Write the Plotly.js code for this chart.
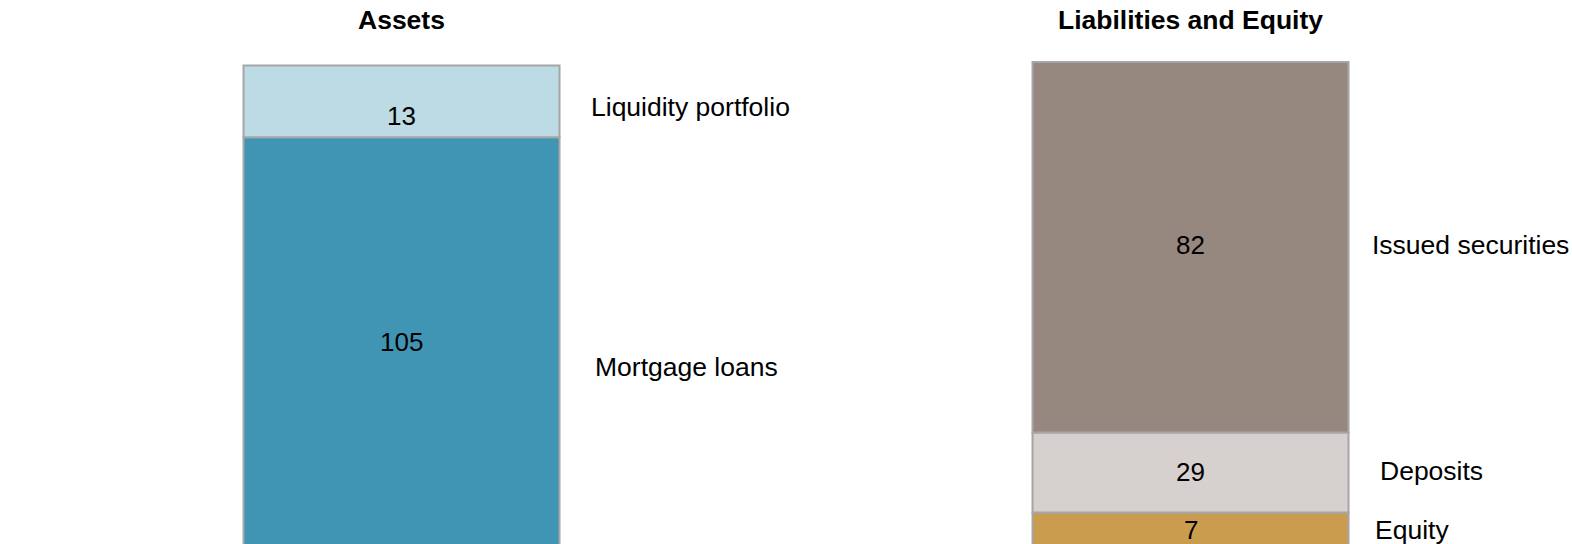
<!DOCTYPE html>
<html>
<head>
<meta charset="utf-8">
<script src="https://cdn.plot.ly/plotly-3.0.1.min.js"></script>
<style>html,body{margin:0;padding:0;background:#fff;overflow:hidden}#chart{width:1572px;height:544px}</style>
</head>
<body>
<div id="chart"></div>
<script>
// Columns (sides of the balance sheet)
const sides = ["Assets", "Liabilities and Equity"];

// Segment names, bottom to top
const assetNames = ["Mortgage loans", "Liquidity portfolio"];
const liabNames = ["Equity", "Deposits", "Issued securities"];

// Printed values (labels shown in the bars)
const assetLabels = ["105", "13"];
const liabLabels = ["7", "29", "82"];

// Drawn heights of the segments
const assetHeights = [102.2, 17.9];
const liabHeights = [8.4, 20.0, 92.6];

const assetColors = ["#4195b4", "#bddbe4"];
const liabColors = ["#c99c4e", "#d6d1ce", "#96887e"];

const FONT = "Liberation Sans, Arial, sans-serif";
const border = {color: "#a6a6a6", width: 2};

const traces = [];
const annotations = [];

function addStack(xIdx, names, heights, labels, colors, valShift, nameShift) {
  let base = 0;
  names.forEach((n, i) => {
    traces.push({
      type: "bar",
      x: [xIdx],
      y: [heights[i]],
      base: [base],
      width: 0.4005,
      name: n,
      marker: {color: colors[i], line: border},
      hoverinfo: "name+text",
      text: [labels[i]],
      textposition: "none",
      cliponaxis: true,
      showlegend: false
    });
    const mid = base + heights[i] / 2;
    annotations.push({
      x: xIdx, y: mid, xref: "x", yref: "y",
      text: labels[i], showarrow: false,
      xanchor: "center", yanchor: "middle",
      yshift: valShift[i],
      font: {family: FONT, size: 26, color: "#000"}
    });
    annotations.push({
      x: xIdx + 0.20025, y: mid, xref: "x", yref: "y",
      text: n, showarrow: false,
      xanchor: "left", yanchor: "middle",
      xshift: nameShift[i][0], yshift: nameShift[i][1],
      font: {family: FONT, size: 26.5, color: "#000"}
    });
    base += heights[i];
  });
}

addStack(0, assetNames, assetHeights, assetLabels, assetColors,
  [0, -15], [[33, -25], [29, -5.5]]);
addStack(1, liabNames, liabHeights, liabLabels, liabColors,
  [-1, 0, 2], [[24, -1], [29, 1], [21, 2]]);

sides.forEach((s, i) => {
  annotations.push({
    x: i, y: 1, xref: "x", yref: "paper",
    text: "<b>" + s + "</b>", showarrow: false,
    xanchor: "center", yanchor: "middle", yshift: -20,
    font: {family: FONT, size: 26.5, color: "#000"}
  });
});

const layout = {
  width: 1572, height: 544,
  margin: {l: 0, r: 0, t: 0, b: 0, pad: 0},
  paper_bgcolor: "#fff", plot_bgcolor: "#fff",
  barmode: "overlay",
  showlegend: false,
  xaxis: {range: [-0.5089, 1.4835], visible: false, fixedrange: true},
  yaxis: {range: [0.5, 136.5], visible: false, fixedrange: true},
  annotations: annotations,
  font: {family: FONT}
};

Plotly.newPlot("chart", traces, layout, {staticPlot: true, displayModeBar: false});
</script>
</body>
</html>
